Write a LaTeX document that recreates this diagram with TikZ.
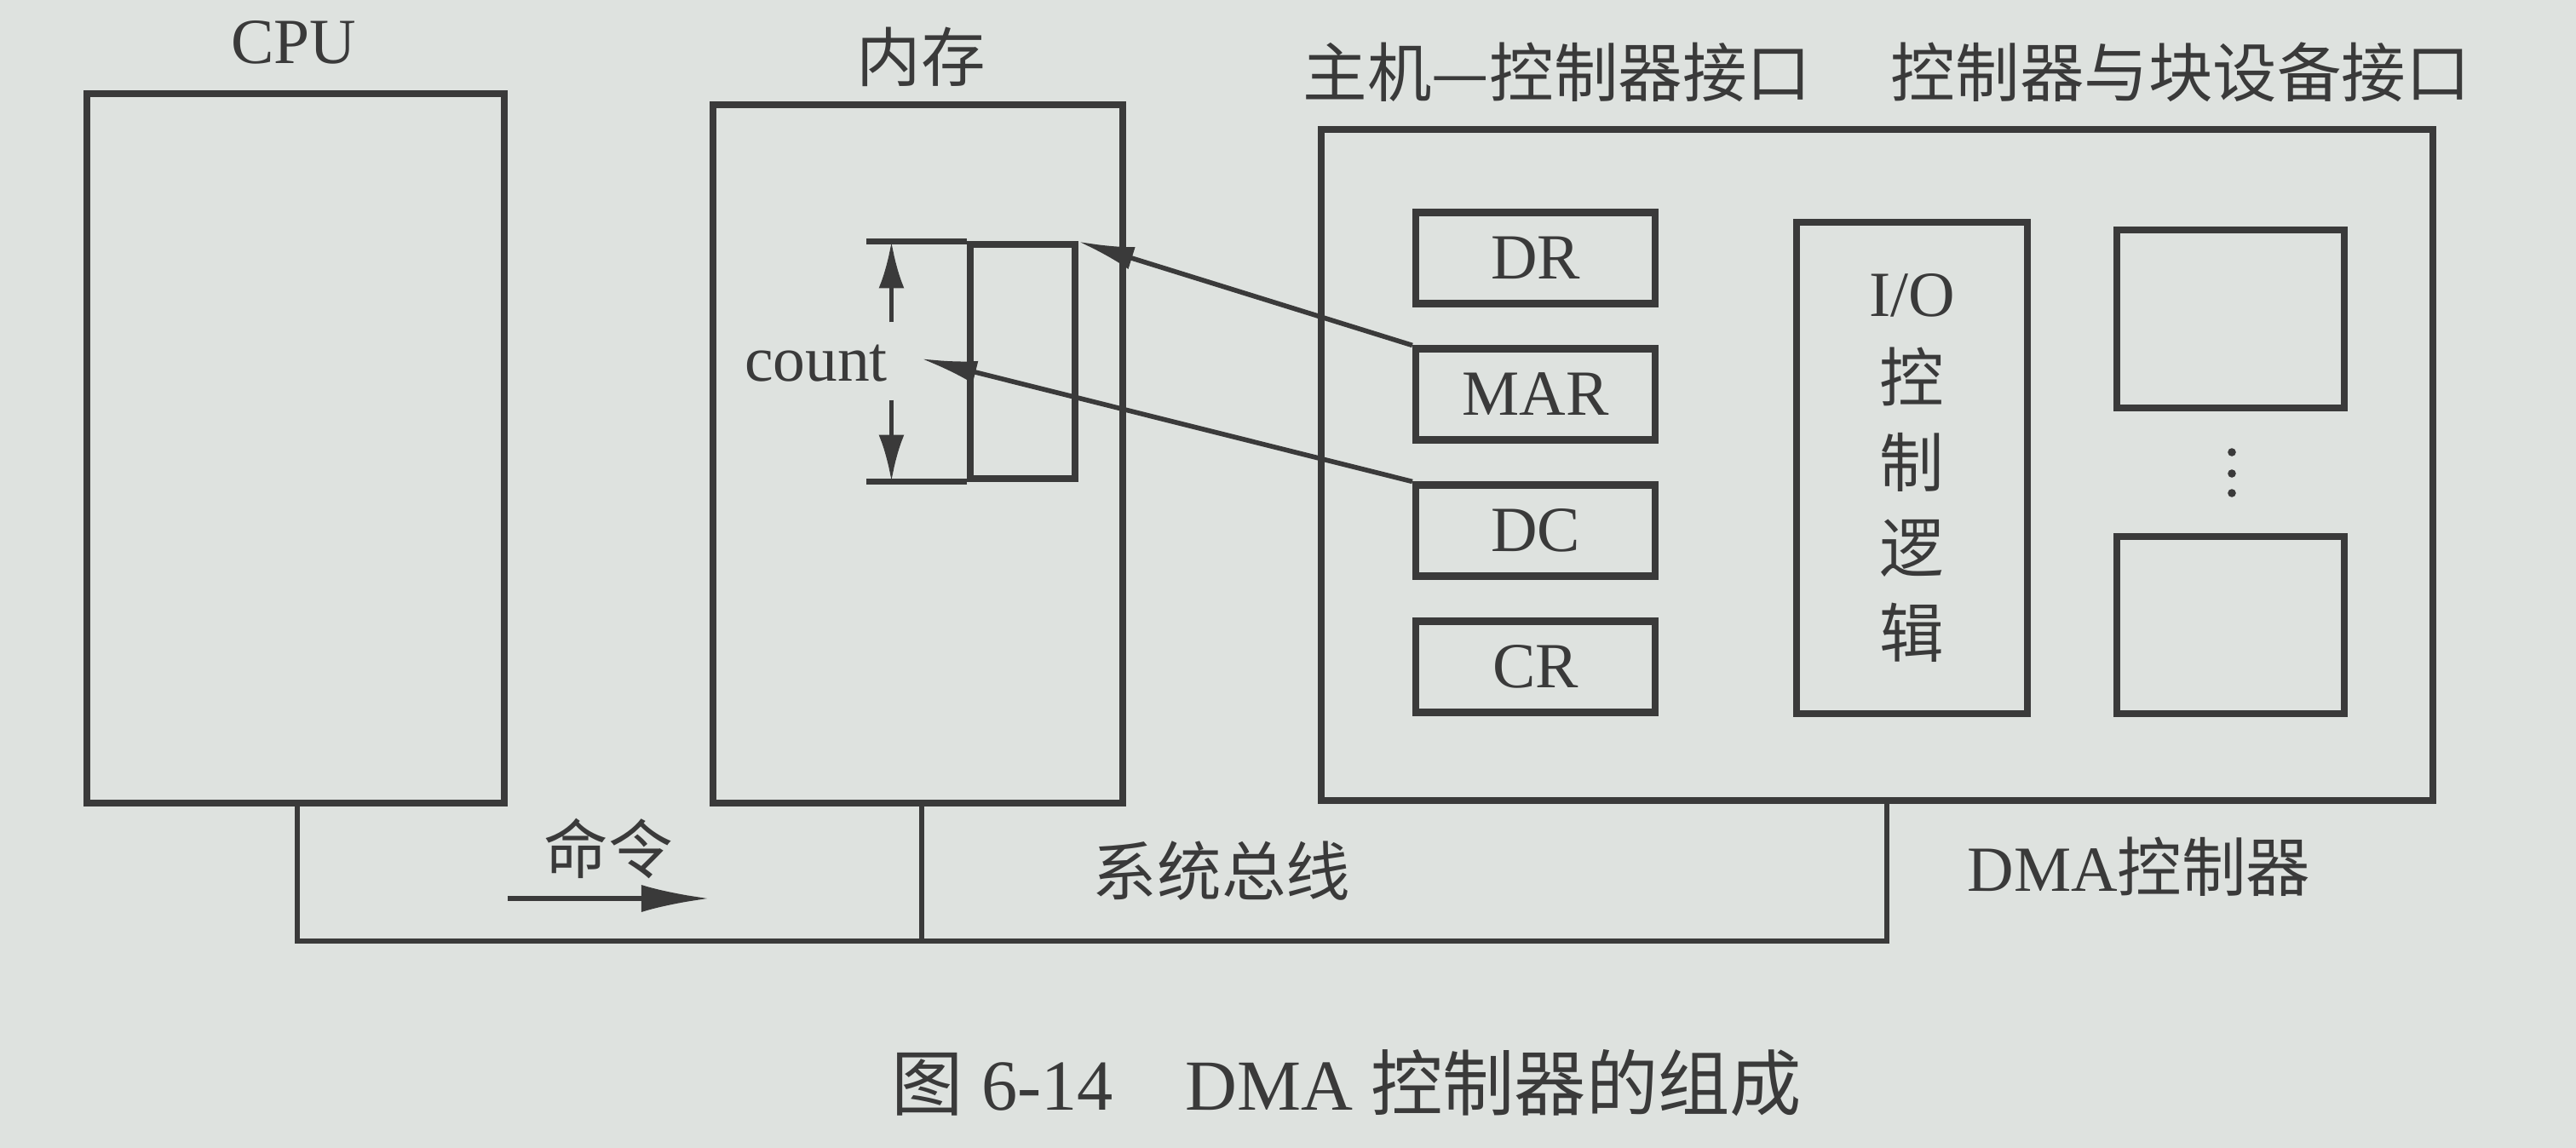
\documentclass[tikz,border=0pt]{standalone}
\usepackage{fontspec}
\setmainfont{Liberation Serif}
\newfontfamily\cjk{Noto Sans CJK SC}
\usetikzlibrary{arrows.meta}
\definecolor{paper}{RGB}{222,226,223}
\definecolor{ink}{RGB}{58,58,58}
\begin{document}
\begin{tikzpicture}[x=1cm,y=-1cm,
    box/.style={draw=ink,line width=2.3pt,inner sep=0pt},
    reg/.style={box,minimum width=2.81cm,minimum height=1.07cm,font=\fontsize{21.5}{25}\selectfont,text=ink},
    lbl/.style={font=\fontsize{21.5}{25}\selectfont,text=ink,inner sep=0pt},
    ptr/.style={draw=ink,line width=1.6pt,-{Latex[length=0.66cm,width=0.27cm]}},
    bus/.style={draw=ink,line width=1.8pt}]
    \fill[paper] (0,0) rectangle (30.24,13.48);
    \useasboundingbox (0,0) rectangle (30.24,13.48);
    % CPU and memory
    \node[box,minimum width=4.90cm,minimum height=8.33cm] (cpu) at (3.47,5.265) {};
    \node[lbl] (cpulbl) at (3.45,0.50) {CPU};
    \node[box,minimum width=4.81cm,minimum height=8.20cm] (mem) at (10.775,5.33) {};
    \node[lbl] (memlbl) at (10.81,0.67) {\cjk 内存};
    % count block inside memory
    \node[box,line width=2pt,minimum width=1.23cm,minimum height=2.75cm] (cnt) at (12.005,4.245) {};
    \coordinate (ctop) at ([xshift=-0.89cm]cnt.north west);
    \coordinate (cbot) at ([xshift=-0.89cm]cnt.south west);
    \draw[ink,line width=2pt] (cnt.north west) -- ++(-1.18,0);
    \draw[ink,line width=2pt] (cnt.south west) -- ++(-1.18,0);
    \draw[ptr,-{Latex[length=0.55cm,width=0.3cm]}] ([yshift=-0.95cm]ctop) -- (ctop);
    \draw[ptr,-{Latex[length=0.55cm,width=0.3cm]}] ([yshift=0.96cm]cbot) -- (cbot);
    \node[lbl] (cntlbl) at (9.58,4.27) {count};
    \coordinate (cnttip) at (10.81,4.21);
    % DMA controller
    \node[box,minimum width=13.05cm,minimum height=7.88cm] (dma) at (22.035,5.46) {};
    \node[lbl] (hostif) at (18.28,0.85) {\cjk 主机—控制器接口};
    \node[lbl] (devif) at (25.60,0.85) {\cjk 控制器与块设备接口};
    \node[reg] (dr) at (18.025,3.03) {DR};
    \node[reg] (mar) at (18.025,4.63) {MAR};
    \node[reg] (dc) at (18.025,6.23) {DC};
    \node[reg] (cr) at (18.025,7.83) {CR};
    \node[box,minimum width=2.71cm,minimum height=5.77cm,align=center,
          font=\fontsize{21.5}{28.4}\selectfont,text=ink] (iol) at (22.445,5.495)
          {I/O\\{\cjk 控}\\{\cjk 制}\\{\cjk 逻}\\{\cjk 辑}};
    \node[box,minimum width=2.67cm,minimum height=2.09cm] (dev1) at (26.185,3.745) {};
    \node[box,minimum width=2.67cm,minimum height=2.08cm] (dev2) at (26.185,7.34) {};
    \foreach \y in {5.31,5.56,5.79}
      \fill[ink] (26.20,\y) circle (0.048);
    \node[lbl] (dmalbl) at (25.11,10.18) {DMA{\cjk 控制器}};
    % address and count pointers
    \draw[ptr] (mar.north west) -- (cnt.north east);
    \draw[ptr] (dc.north west) -- (cnttip);
    % system bus
    \coordinate (bl) at (3.49,11.05);
    \coordinate (bm) at (10.82,11.05);
    \coordinate (br) at (22.15,11.05);
    \draw[bus] (cpu.south -| bl) -- (bl) -- (br) -- (dma.south -| br);
    \draw[bus] (bm |- mem.south) -- (bm);
    \node[lbl] (buslbl) at (14.34,10.23) {\cjk 系统总线};
    \node[lbl] (cmdlbl) at (7.14,9.97) {\cjk 命令};
    \draw[ptr,-{Latex[length=0.8cm,width=0.32cm]}] (cpu.east |- 0,10.55) -- (mem.west |- 0,10.55);
    % caption
    \node[lbl,font=\fontsize{24}{28}\selectfont] (cap) at (15.81,12.72)
      {{\cjk 图} 6-14\quad DMA {\cjk 控制器的组成}};
\end{tikzpicture}
\end{document}
